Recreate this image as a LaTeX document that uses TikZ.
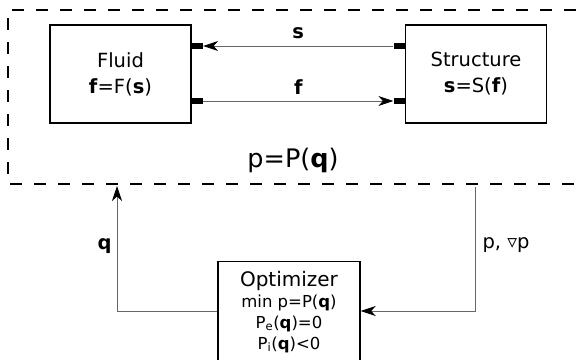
\documentclass[tikz,border=0pt]{standalone}
\usepackage{fontspec}
\setmainfont{DejaVu Sans}
\usetikzlibrary{arrows.meta,positioning}

\tikzset{
    block/.style={draw, line width=1.4pt, minimum width=141pt, minimum height=98pt, align=center,
        font=\fontsize{19.5}{26}\selectfont},
    port/.style={fill, inner sep=0pt, minimum width=11pt, minimum height=6.5pt},
    link/.style={draw=black!60, line width=0.9pt},
    tip/.style={-{Stealth[length=15pt,width=10pt,inset=4.5pt,color=black]}},
    frame/.style={line width=2.3pt, dash pattern=on 12pt off 12pt}
}

\begin{document}
\begin{tikzpicture}[x=1pt, y=-1pt]
    \clip (0,0) rectangle (580,359);
    \draw[frame] (600,10) -- (8,10) -- (8,184) -- (600,184);

    \node[block] (fluid) at (120.5,74) {Fluid\\\textbf{f}=F(\textbf{s})};
    \node[block] (struct) at (476,74) {Structure\\\textbf{s}=S(\textbf{f})};

    \node[port, anchor=west] (fs) at (fluid.east |- 0,46) {};
    \node[port, anchor=west] (ff) at (fluid.east |- 0,101) {};
    \node[port, anchor=east] (ss) at (struct.west |- 0,46) {};
    \node[port, anchor=east] (sf) at (struct.west |- 0,101) {};

    \draw[link, tip] (ss.west) -- (fs.east) node[midway, above=3pt, black, font=\fontsize{19.5}{22}\selectfont\bfseries] {s};
    \draw[link, tip] (ff.east) -- (sf.west) node[midway, above=3pt, black, font=\fontsize{19.5}{22}\selectfont\bfseries] {f};

    \node[font=\fontsize{25.5}{30}\selectfont] (pq) at (293,160) {p=P(\textbf{q})};

    % optimizer loop
    \node[draw, line width=1.4pt, anchor=north, minimum width=142pt, minimum height=100pt, align=center,
        font=\fontsize{16.5}{21}\selectfont] (opt) at (289,261)
        {{\fontsize{20}{23}\selectfont Optimizer}\\min p=P(\textbf{q})\\P\textsubscript{e}(\textbf{q})=0\\P\textsubscript{i}(\textbf{q})<0};

    \coordinate (qtop) at (117,186);
    \coordinate (ptop) at (475,187);
    \coordinate (ql) at (opt.west |- 0,311);
    \coordinate (pr) at (opt.east |- 0,311);

    \draw[link, tip] (ql) -| (qtop);
    \draw[link, tip] (ptop) |- (pr);

    \node[anchor=east, font=\fontsize{19.5}{22}\selectfont\bfseries] (qlab) at (115,246) {q};
    \node[anchor=west, font=\fontsize{19.5}{22}\selectfont] (plab) at (479,245) {p, ▿p};
\end{tikzpicture}
\end{document}
